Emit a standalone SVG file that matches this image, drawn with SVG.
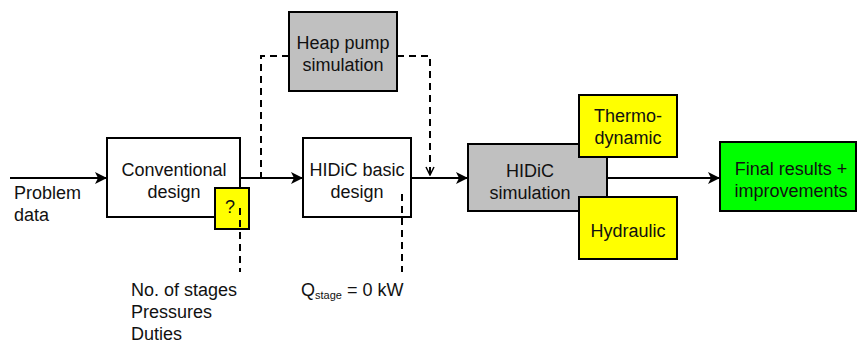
<svg xmlns="http://www.w3.org/2000/svg" width="858" height="344" viewBox="0 0 858 344">
<style>
text{font-family:"Liberation Sans",Arial,sans-serif;font-size:18px;fill:#111}
.c{text-anchor:middle}
.box{stroke:#000;stroke-width:2}
.ln{stroke:#000;stroke-width:2;fill:none}
.d{stroke:#000;stroke-width:2;fill:none;stroke-dasharray:7,5}
</style>
<defs>
<marker id="ah" markerWidth="12" markerHeight="12" viewBox="0 0 12 12" refX="12" refY="6" orient="auto" markerUnits="userSpaceOnUse">
<path d="M0,0 L12,6 L0,12 L3,6 Z" fill="#000"/>
</marker>
<marker id="oh" markerWidth="10" markerHeight="10" viewBox="0 0 10 10" refX="9" refY="5" orient="auto" markerUnits="userSpaceOnUse">
<path d="M1,1 L9,5 L1,9" fill="none" stroke="#000" stroke-width="1.5"/>
</marker>
</defs>
<g id="problem-data">
<text x="14" y="199">Problem</text>
<text x="14" y="221">data</text>
</g>
<g id="conventional">
<rect class="box" x="107" y="138" width="133" height="79" fill="#fff"/>
<text class="c" x="174" y="176">Conventional</text>
<text class="c" x="174" y="198">design</text>
</g>
<g id="question">
<rect class="box" x="215" y="188" width="34" height="41" fill="#ffff00"/>
<text x="225" y="213" font-size="22">?</text>
</g>
<g id="heat-pump">
<rect class="box" x="289" y="12" width="108" height="79" fill="#c0c0c0"/>
<text class="c" x="343" y="49">Heap pump</text>
<text class="c" x="343" y="71">simulation</text>
</g>
<g id="hidic-basic">
<rect class="box" x="303" y="138" width="108" height="79" fill="#fff"/>
<text class="c" x="357" y="176">HIDiC basic</text>
<text class="c" x="357" y="198">design</text>
</g>
<g id="hidic-sim">
<rect class="box" x="468" y="144" width="139" height="67" fill="#c0c0c0"/>
<text class="c" x="530" y="177">HIDiC</text>
<text class="c" x="530" y="199">simulation</text>
</g>
<g id="thermo">
<rect class="box" x="579" y="95" width="98" height="62" fill="#ffff00"/>
<text class="c" x="628" y="122">Thermo-</text>
<text class="c" x="628" y="144">dynamic</text>
</g>
<g id="hydraulic">
<rect class="box" x="579" y="197" width="98" height="62" fill="#ffff00"/>
<text class="c" x="628" y="237">Hydraulic</text>
</g>
<g id="final">
<rect class="box" x="720" y="142" width="136" height="69" fill="#00ff00"/>
<text class="c" x="791" y="175">Final results +</text>
<text class="c" x="791" y="197">improvements</text>
</g>
<g id="stages-note">
<text x="131" y="296">No. of stages</text>
<text x="131" y="318">Pressures</text>
<text x="131" y="340">Duties</text>
</g>
<g id="qstage-note">
<text x="301" y="296">Q<tspan font-size="11" dy="3">stage</tspan><tspan dy="-3"> = 0 kW</tspan></text>
</g>
<g id="connectors">
<line class="ln" x1="10" y1="178" x2="107" y2="178" marker-end="url(#ah)"/>
<line class="ln" x1="240" y1="178" x2="303" y2="178" marker-end="url(#ah)"/>
<line class="ln" x1="411" y1="178" x2="468" y2="178" marker-end="url(#ah)"/>
<line class="ln" x1="607" y1="178" x2="720" y2="178" marker-end="url(#ah)"/>
<polyline class="d" points="289,56 261,56 261,178"/>
<polyline class="d" points="397,56 430,56 430,175" marker-end="url(#oh)"/>
<line class="d" x1="240" y1="208" x2="240" y2="272"/>
<line class="d" x1="402" y1="194" x2="402" y2="272"/>
</g>
</svg>
